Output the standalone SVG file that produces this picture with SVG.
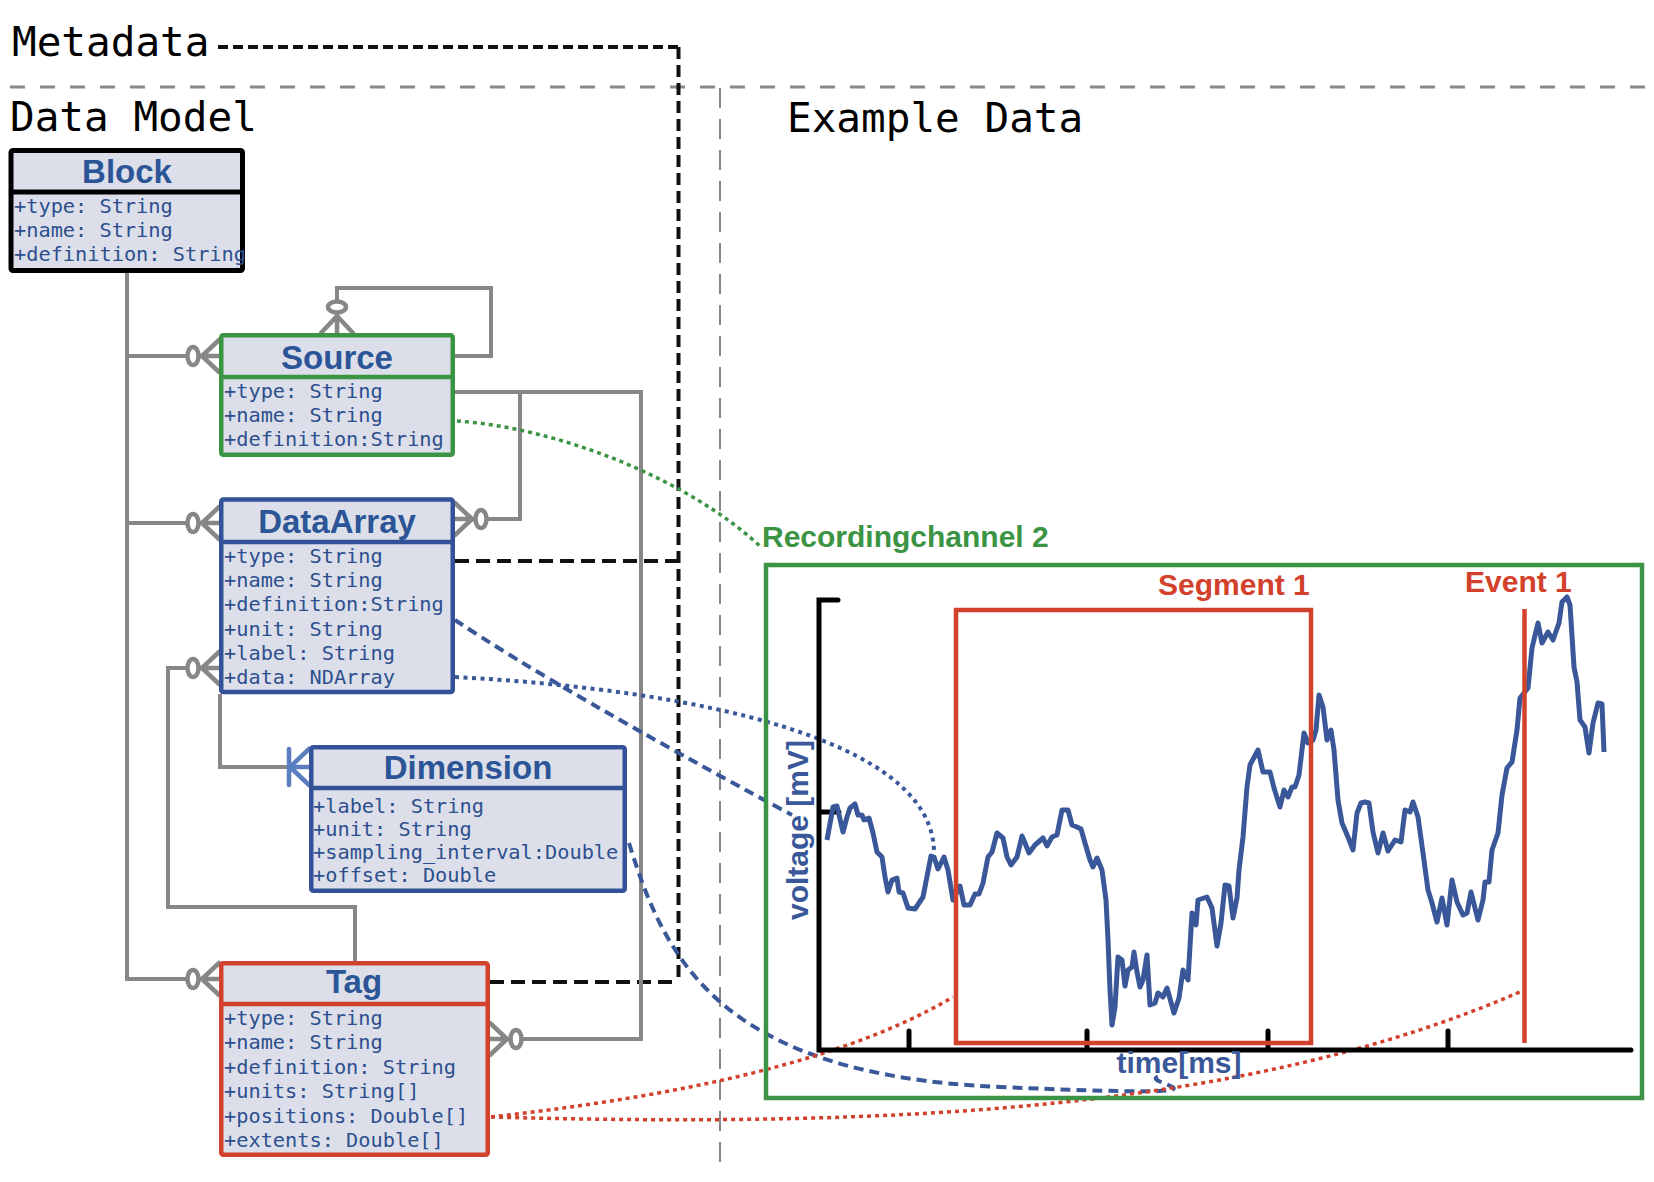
<svg xmlns="http://www.w3.org/2000/svg" width="1654" height="1182" viewBox="0 0 1654 1182">
<defs>
<style>
.hd{font-family:"DejaVu Sans Mono",monospace;font-size:41px;fill:#000}
.ttl{font-family:"Liberation Sans",Arial,sans-serif;font-weight:bold;font-size:33px;fill:#2b5597;text-anchor:middle}
.att{font-family:"DejaVu Sans Mono",monospace;font-size:20.3px;fill:#2d4f8f}
.lbl{font-family:"Liberation Sans",Arial,sans-serif;font-weight:bold;font-size:30px}
.con{fill:none;stroke:#878787;stroke-width:4}
.sym{fill:none;stroke:#878787;stroke-width:4.5;stroke-linecap:round}
.blk{fill:none;stroke:#111;stroke-width:4}
</style>
<g id="zm" class="sym"><path d="M-17,0 L0,-16 M-17,0 L0,16 M-21,0 H0"/><ellipse cx="-26" cy="0" rx="5.5" ry="9" fill="#fff"/></g>
<g id="om" fill="none" stroke="#5b7ec0" stroke-width="4.5" stroke-linecap="round"><path d="M-20,-18 V18 M-19,0 L0,-18 M-19,0 L0,18 M-20,0 H0"/></g>
</defs>
<rect width="1654" height="1182" fill="#fff"/>

<!-- section headings and separators -->
<g id="headings">
<text class="hd" x="12" y="56">Metadata</text>
<text class="hd" x="10" y="131">Data Model</text>
<text class="hd" x="787" y="132">Example Data</text>
<line x1="10" y1="87" x2="1654" y2="87" stroke="#888" stroke-width="3" stroke-dasharray="15 15"/>
<line x1="720" y1="88" x2="720" y2="1162" stroke="#888" stroke-width="2" stroke-dasharray="20 11"/>
</g>

<!-- connectors -->
<g id="connectors">
<path class="blk" d="M218,47 H678.5" stroke-dasharray="10 5"/>
<path class="blk" d="M678.5,47 V982" stroke-dasharray="12 6"/>
<path class="blk" d="M455,561 H678.5" stroke-dasharray="14 7"/>
<path class="blk" d="M490,982 H678.5" stroke-dasharray="14 7"/>

<path class="con" d="M127,273 V979 H200"/>
<path class="con" d="M127,356 H200"/>
<path class="con" d="M127,523 H200"/>
<path class="con" d="M455,356 H491 V288 H337 V310"/>
<path class="con" d="M455,392 H641 V1039 H510"/>
<path class="con" d="M520,392 V519 H475"/>
<path class="con" d="M220,694 V767 H295"/>
<path class="con" d="M355,961 V907 H168 V668 H200"/>

<use href="#zm" transform="translate(219,356)"/>
<use href="#zm" transform="translate(219,523)"/>
<use href="#zm" transform="translate(219,668)"/>
<use href="#zm" transform="translate(219,979)"/>
<use href="#zm" transform="translate(337,333) rotate(90)"/>
<use href="#zm" transform="translate(455,519) rotate(180)"/>
<use href="#zm" transform="translate(490,1039) rotate(180)"/>
<use href="#om" transform="translate(309,767)"/>

<path d="M457,421 C560,428 690,480 762,548" fill="none" stroke="#3b9443" stroke-width="3.5" stroke-dasharray="4 4"/>
<path d="M455,620 Q560,690 792,815" fill="none" stroke="#3a5899" stroke-width="4" stroke-dasharray="10 6"/>
<path d="M455,677 C700,690 930,740 934,850" fill="none" stroke="#3a5899" stroke-width="4" stroke-dasharray="4 4.5"/>
<path d="M629,843 C665,960 720,1075 1000,1087 S1130,1083 1160,1076" fill="none" stroke="#3a5899" stroke-width="4" stroke-dasharray="10 6"/>
<path d="M491,1117 C640,1100 830,1070 953,997" fill="none" stroke="#d2412c" stroke-width="3.5" stroke-dasharray="4 4"/>
<path d="M491,1117 C900,1128 1250,1110 1522,991" fill="none" stroke="#d2412c" stroke-width="3.5" stroke-dasharray="4 4"/>
</g>

<!-- nodes -->
<g id="block">
<rect x="11" y="150.5" width="231.5" height="120" rx="2" fill="#dcdfe9" stroke="#000" stroke-width="5"/>
<line x1="11" y1="192" x2="242.5" y2="192" stroke="#000" stroke-width="5"/>
<text class="ttl" x="127" y="183">Block</text>
<text class="att"><tspan x="14" y="213">+type: String</tspan><tspan x="14" y="237">+name: String</tspan><tspan x="14" y="261">+definition: String</tspan></text>
</g>

<g id="source">
<rect x="221.25" y="335.25" width="231.5" height="119.5" rx="2" fill="#dcdfe9" stroke="#3b9443" stroke-width="4.5"/>
<line x1="221.25" y1="377" x2="452.75" y2="377" stroke="#3b9443" stroke-width="4.5"/>
<text class="ttl" x="337" y="369">Source</text>
<text class="att"><tspan x="224" y="398">+type: String</tspan><tspan x="224" y="422">+name: String</tspan><tspan x="224" y="446">+definition:String</tspan></text>
</g>

<g id="dataarray">
<rect x="221.25" y="499.5" width="231.5" height="192.5" rx="2" fill="#dcdfe9" stroke="#34529a" stroke-width="4.5"/>
<line x1="221.25" y1="542" x2="452.75" y2="542" stroke="#34529a" stroke-width="4.5"/>
<text class="ttl" x="337" y="533">DataArray</text>
<text class="att"><tspan x="224" y="563">+type: String</tspan><tspan x="224" y="587">+name: String</tspan><tspan x="224" y="611">+definition:String</tspan><tspan x="224" y="636">+unit: String</tspan><tspan x="224" y="660">+label: String</tspan><tspan x="224" y="684">+data: NDArray</tspan></text>
</g>

<g id="dimension">
<rect x="311.25" y="747.25" width="313.5" height="143.5" rx="2" fill="#dcdfe9" stroke="#34529a" stroke-width="4.5"/>
<line x1="311.25" y1="788" x2="624.75" y2="788" stroke="#34529a" stroke-width="4.5"/>
<text class="ttl" x="468" y="779">Dimension</text>
<text class="att"><tspan x="313" y="813">+label: String</tspan><tspan x="313" y="836">+unit: String</tspan><tspan x="313" y="859">+sampling_interval:Double</tspan><tspan x="313" y="882">+offset: Double</tspan></text>
</g>

<g id="tag">
<rect x="221.25" y="963.25" width="266.5" height="191.5" rx="2" fill="#dcdfe9" stroke="#d2412c" stroke-width="4.5"/>
<line x1="221.25" y1="1004" x2="487.75" y2="1004" stroke="#d2412c" stroke-width="4.5"/>
<text class="ttl" x="354" y="993">Tag</text>
<text class="att"><tspan x="224" y="1025">+type: String</tspan><tspan x="224" y="1049">+name: String</tspan><tspan x="224" y="1074">+definition: String</tspan><tspan x="224" y="1098">+units: String[]</tspan><tspan x="224" y="1123">+positions: Double[]</tspan><tspan x="224" y="1147">+extents: Double[]</tspan></text>
</g>

<!-- example data -->
<g id="recordingchannel">
<rect x="766" y="565" width="876" height="533" fill="none" stroke="#3b9443" stroke-width="4.5"/>
<text class="lbl" x="762" y="547" fill="#3b9443">Recordingchannel 2</text>
</g>

<g id="chart">
<path d="M838,600 H819 V1050 H1631 M819,812 H839 M909,1050 V1031 M1087,1050 V1031 M1268,1050 V1031 M1448,1050 V1031" fill="none" stroke="#000" stroke-width="5" stroke-linecap="round"/>
<text class="lbl" x="1179" y="1073" fill="#3a5899" text-anchor="middle">time[ms]</text>
<text class="lbl" transform="translate(808,830) rotate(-90)" fill="#3a5899" text-anchor="middle">voltage [mV]</text>
<polyline fill="none" stroke="#3a5899" stroke-width="5" stroke-linejoin="round" points="827,840 833,807 837,806 843,832 847,817 850,808 855,804 858,815 862,815 864,820 869,818 873,833 877,852 882,857 885,877 888,892 892,880 897,878 899,892 903,893 908,908 915,909 923,897 931,856 934,857 938,869 944,857 948,870 953,900 960,886 964,905 970,905 975,894 979,894 983,883 988,857 992,852 997,833 1003,838 1007,857 1011,865 1017,857 1022,836 1025,843 1029,853 1035,845 1043,838 1047,846 1052,837 1057,835 1062,810 1068,810 1072,825 1077,827 1081,829 1085,843 1090,860 1093,867 1097,858 1102,870 1106,900 1108,940 1110,990 1112,1025 1115,1007 1118,957 1122,960 1125,986 1128,970 1132,967 1134,952 1137,972 1140,987 1143,980 1147,955 1150,1005 1155,1003 1158,993 1163,997 1167,988 1174,1013 1179,998 1183,970 1188,980 1192,913 1196,925 1198,900 1207,897 1212,908 1217,946 1221,923 1225,885 1229,886 1233,918 1237,898 1239,870 1243,837 1247,787 1250,765 1258,750 1263,772 1270,772 1274,788 1280,807 1284,790 1288,797 1292,787 1295,787 1299,775 1304,733 1308,743 1313,740 1316,730 1319,695 1323,707 1327,740 1331,730 1334,750 1338,800 1342,823 1348,837 1353,850 1357,813 1361,803 1365,802 1369,803 1373,832 1378,853 1383,833 1388,851 1395,840 1401,842 1405,810 1410,812 1413,802 1418,817 1423,853 1428,890 1432,903 1437,922 1442,898 1447,925 1452,880 1457,902 1463,915 1467,913 1471,892 1478,920 1483,900 1485,882 1489,882 1492,850 1498,833 1502,795 1507,768 1512,762 1517,730 1520,698 1528,688 1532,648 1538,623 1542,643 1548,632 1553,640 1559,623 1562,602 1567,597 1570,605 1574,667 1577,682 1580,720 1585,727 1589,753 1593,723 1598,703 1602,704 1604,752"/>
</g>

<g id="segment">
<rect x="956" y="610" width="355" height="433" fill="none" stroke="#d2412c" stroke-width="4.5"/>
<text class="lbl" x="1158" y="595" fill="#d2412c">Segment 1</text>
</g>

<g id="event">
<line x1="1524.5" y1="609" x2="1524.5" y2="1043" stroke="#d2412c" stroke-width="4.5"/>
<text class="lbl" x="1465" y="592" fill="#d2412c">Event 1</text>
</g>
</svg>
